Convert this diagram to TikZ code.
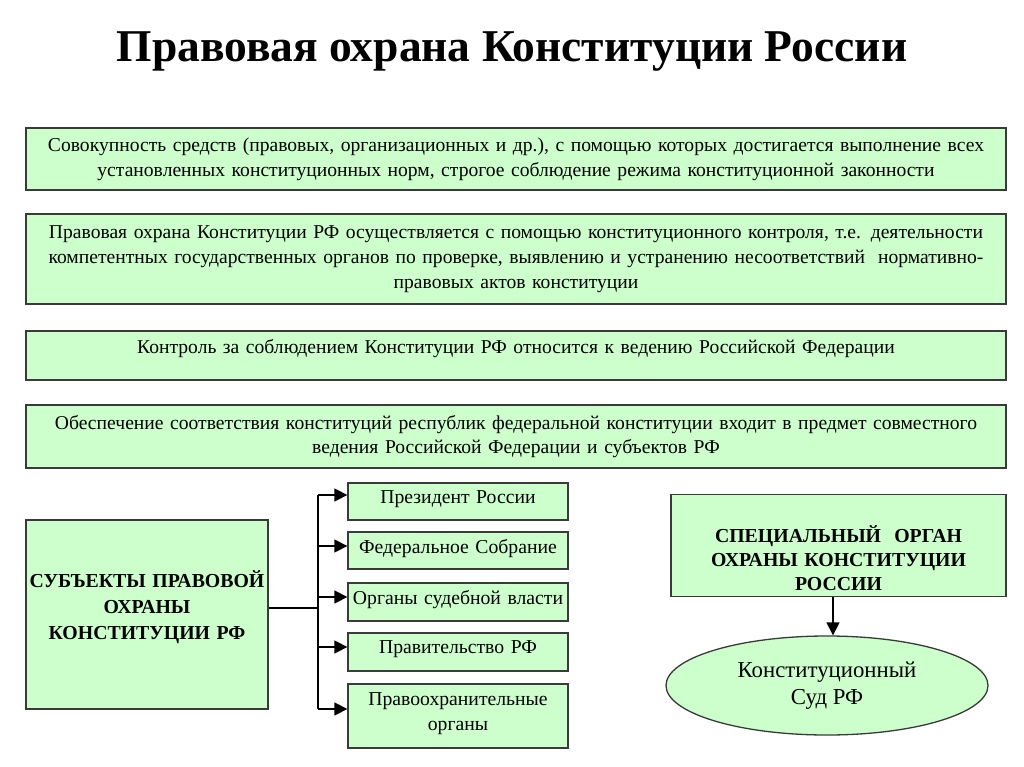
\documentclass[tikz,border=0pt]{standalone}
\usepackage{fontspec}
\setmainfont{Liberation Serif}
\usetikzlibrary{arrows.meta,shapes.geometric}
\definecolor{boxgreen}{HTML}{CCFFCC}
\definecolor{boxline}{HTML}{3A3A3A}
\tikzset{
  gbox/.style={draw=boxline, fill=boxgreen, line width=1.3pt, align=center, inner sep=0pt},
  bigbox/.style={gbox, minimum width=980pt, text width=970pt, font=\fontsize{19.6}{24.8}\selectfont},
  smallbox/.style={gbox, minimum width=220pt, text width=218pt, text depth=9pt, font=\fontsize{19.7}{25}\selectfont},
  boldbox/.style={gbox, font=\fontsize{19.8}{24}\selectfont\bfseries},
  conn/.style={line width=1.3pt, draw=black},
  arr/.style={conn, -{Triangle[length=13pt,width=13pt]}}
}
\begin{document}
\begin{tikzpicture}[x=1pt,y=-1pt]
\useasboundingbox (0,0) rectangle (1024,767);
\node[font=\fontsize{45.5}{50}\selectfont\bfseries] (title) at (512,52) {Правовая охрана Конституции России};

\node[bigbox, minimum height=62pt] (b1) at (516,159) {Совокупность средств (правовых, организационных и др.), с помощью которых достигается выполнение всех\\ установленных конституционных норм, строгое соблюдение режима конституционной законности};
\node[bigbox, minimum height=90pt] (b2) at (516,259) {Правовая охрана Конституции РФ осуществляется с помощью конституционного контроля, т.е. деятельности\\ компетентных государственных органов по проверке, выявлению и устранению несоответствий\ \ нормативно-\\ правовых актов конституции};
\node[bigbox, minimum height=49pt, text depth=19pt] (b3) at (516,355.5) {Контроль за соблюдением Конституции РФ относится к ведению Российской Федерации};
\node[bigbox, minimum height=63pt] (b4) at (516,436.5) {Обеспечение соответствия конституций республик федеральной конституции входит в предмет совместного\\ ведения Российской Федерации и субъектов РФ};

\node[boldbox, minimum width=242pt, minimum height=189pt, text width=240pt, text depth=71pt, font=\fontsize{19.8}{25.8}\selectfont\bfseries] (subj) at (147,614.5) {СУБЪЕКТЫ ПРАВОВОЙ\\ ОХРАНЫ\\ КОНСТИТУЦИИ РФ};

\node[smallbox, minimum height=37pt] (p1) at (458,501.5) {Президент России};
\node[smallbox, minimum height=37pt] (p2) at (458,550.5) {Федеральное Собрание};
\node[smallbox, minimum height=38pt] (p3) at (458,602) {Органы судебной власти};
\node[smallbox, minimum height=38pt] (p4) at (458,652) {Правительство РФ};
\node[smallbox, minimum height=64pt, text depth=34pt] (p5) at (458,716) {Правоохранительные\\ органы};

\coordinate (trunk) at (318,608);
\coordinate (t1) at (318,495);
\coordinate (t2) at (318,546);
\coordinate (t3) at (318,597);
\coordinate (t4) at (318,647);
\coordinate (t5) at (318,709);
\draw[conn] (subj.east |- trunk) -- (trunk);
\draw[conn] (t1) -- (t5);
\draw[arr] (t1) -- (p1.west |- t1);
\draw[arr] (t2) -- (p2.west |- t2);
\draw[arr] (t3) -- (p3.west |- t3);
\draw[arr] (t4) -- (p4.west |- t4);
\draw[arr] (t5) -- (p5.west |- t5);

\node[boldbox, minimum width=335pt, minimum height=102pt, text width=330pt, text height=42pt] (spec) at (838.5,545.5) {СПЕЦИАЛЬНЫЙ\ \ ОРГАН\\ ОХРАНЫ КОНСТИТУЦИИ\\ РОССИИ};
\node[ellipse, draw=boxline, fill=boxgreen, line width=1.3pt, minimum width=322pt, minimum height=99pt, inner sep=0pt, align=center, font=\fontsize{22.8}{27}\selectfont] (court) at (827,685.5) {Конституционный\\ Суд РФ};
\draw[arr] (spec.south -| 833,0) -- (court.north -| 833,0);
\end{tikzpicture}
\end{document}
